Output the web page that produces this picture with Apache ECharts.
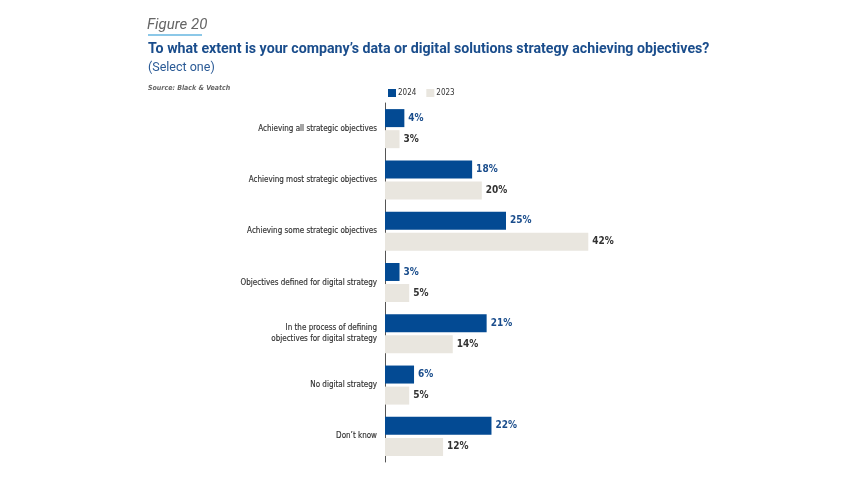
<!DOCTYPE html>
<html><head><meta charset="utf-8">
<script src="https://cdn.jsdelivr.net/npm/echarts@6/dist/echarts.min.js"></script>
<style>html,body{margin:0;padding:0;background:#fff}#c{width:853px;height:480px}</style>
</head><body><div id="c"></div>
<script>
var categories = ["Achieving all strategic objectives","Achieving most strategic objectives","Achieving some strategic objectives","Objectives defined for digital strategy","In the process of defining\nobjectives for digital strategy","No digital strategy","Don\u2019t know"];
var values2024 = [4,18,25,3,21,6,22];
var values2023 = [3,20,42,5,14,5,12];
var chart = echarts.init(document.getElementById('c'));
var narrow = '"Liberation Sans Narrow","DejaVu Sans Condensed",Roboto,sans-serif';
chart.setOption({
  animation:false,
  title:[
    {text:'Figure 20',left:142,top:13,textStyle:{fontFamily:'Roboto',fontStyle:'italic',fontWeight:'normal',fontSize:15,color:'#666'}},
    {text:'To what extent is your company\u2019s data or digital solutions strategy achieving objectives?',left:143,top:37,textStyle:{fontFamily:'Roboto',fontWeight:'bold',fontSize:14.2,color:'#1a4d8c'}},
    {text:'(Select one)',left:143,top:56,textStyle:{fontFamily:'Roboto',fontWeight:'normal',fontSize:12.5,color:'#2a5a96'}},
    {text:'Source: Black & Veatch',left:143,top:80,textStyle:{fontFamily:narrow,fontStyle:'italic',fontWeight:'bold',fontSize:7,color:'#666'}}
  ],
  graphic:[{type:'rect',shape:{x:148,y:34,width:54,height:2},style:{fill:'#8cc8e8'}}],
  legend:{left:383,top:84,itemWidth:8,itemHeight:8,itemGap:10,icon:'rect',textStyle:{fontFamily:narrow,fontSize:8,color:'#333',padding:[0,0,0,-3]},data:['2024','2023']},
  grid:{left:385,top:103,width:242,bottom:18,containLabel:false},
  xAxis:{type:'value',min:0,max:50,show:false},
  yAxis:{type:'category',data:categories,inverse:true,
    axisLine:{show:true,lineStyle:{color:'#555',width:1}},axisTick:{show:false},
    axisLabel:{margin:8,fontFamily:narrow,fontSize:8,color:'#333',lineHeight:11,padding:[2,0,0,0],textBorderColor:'#333',textBorderWidth:0.15}},
  series:[
    {name:'2024',type:'bar',data:values2024,barWidth:18,barGap:'17%',itemStyle:{color:'#034a93'},
     label:{show:true,position:'right',distance:4,formatter:'{c}%',fontFamily:narrow,fontWeight:'bold',fontSize:10,color:'#1a4d8c'}},
    {name:'2023',type:'bar',data:values2023,barWidth:18,itemStyle:{color:'#e9e6df'},
     label:{show:true,position:'right',distance:4,formatter:'{c}%',fontFamily:narrow,fontWeight:'bold',fontSize:10,color:'#333'}}
  ]
});
</script></body></html>
